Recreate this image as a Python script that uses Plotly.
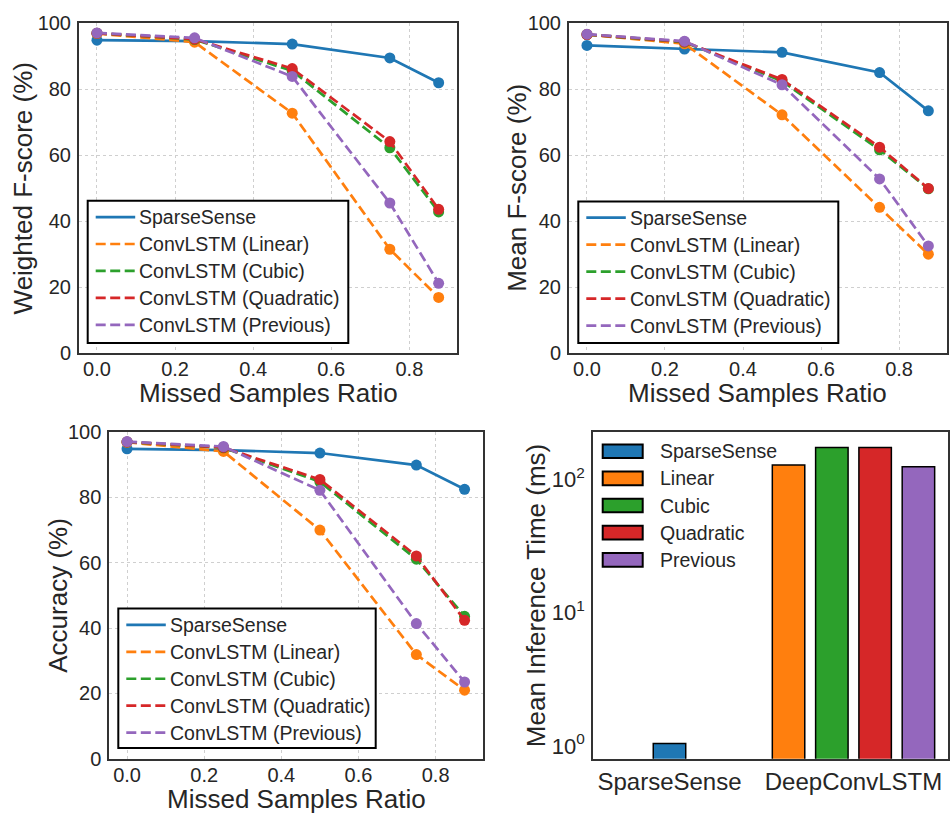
import plotly.graph_objects as go

# ---------------- data ----------------
missed_ratio = [0.0, 0.25, 0.5, 0.75, 0.875]
series_names = ["SparseSense", "ConvLSTM (Linear)", "ConvLSTM (Cubic)",
                "ConvLSTM (Quadratic)", "ConvLSTM (Previous)"]

# Weighted F-score (%)
wf_sparsesense = [94.8, 94.5, 93.6, 89.4, 81.9]
wf_linear = [96.8, 94.2, 72.7, 31.5, 16.9]
wf_cubic = [96.9, 95.0, 85.5, 62.2, 42.8]
wf_quadratic = [96.9, 95.1, 86.2, 64.1, 43.6]
wf_previous = [97.0, 95.5, 83.8, 45.5, 21.2]

# Mean F-score (%)
mf_sparsesense = [93.2, 92.1, 91.1, 85.0, 73.4]
mf_linear = [96.5, 93.7, 72.2, 44.2, 30.0]
mf_cubic = [96.5, 94.2, 82.4, 61.6, 49.8]
mf_quadratic = [96.5, 94.3, 82.9, 62.4, 49.9]
mf_previous = [96.6, 94.5, 81.3, 52.8, 32.5]

# Accuracy (%)
acc_sparsesense = [94.9, 94.5, 93.6, 89.9, 82.5]
acc_linear = [96.9, 94.1, 70.0, 31.9, 21.0]
acc_cubic = [97.0, 95.2, 84.8, 61.1, 43.6]
acc_quadratic = [97.0, 95.3, 85.5, 62.1, 42.4]
acc_previous = [97.1, 95.6, 82.2, 41.4, 23.5]

# Mean inference time (ms)
bar_labels = ["SparseSense", "Linear", "Cubic", "Quadratic", "Previous"]
bar_groups = ["SparseSense", "DeepConvLSTM", "DeepConvLSTM", "DeepConvLSTM", "DeepConvLSTM"]
inference_ms = [1.04, 128, 173, 173, 124]
group_ticks = ["SparseSense", "DeepConvLSTM"]

# ---------------- styling ----------------
COLORS = ["#1f77b4", "#ff7f0e", "#2ca02c", "#d62728", "#9467bd"]
DASHES = ["solid", "10px,4.5px", "10px,4.5px", "10px,4.5px", "10px,4.5px"]
LW = 2.7
FONT = "Liberation Sans, Arial, sans-serif"
TXT = "#262626"
FRAME = "#333333"
GRID = "#cfcfcf"

W, H = 950, 823


def px_dom(a, b, total, flip=False):
    if flip:
        return [(total - b) / total, (total - a) / total]
    return [a / total, b / total]


def fx(px):
    return px / W


def fy(px):
    return (H - px) / H


panels = [
    # axis suffix, x pixel span, y pixel span, series, y title, title offset, legend box
    ("", (79, 457), (12.3, 351.7),
     [wf_sparsesense, wf_linear, wf_cubic, wf_quadratic, wf_previous],
     "Weighted F-score (%)", 55.7, (87.7, 195, 348.3, 341)),
    ("2", (569, 946.7), (12.3, 351.7),
     [mf_sparsesense, mf_linear, mf_cubic, mf_quadratic, mf_previous],
     "Mean F-score (%)", 52.3, (578.3, 195.7, 838.3, 341)),
    ("3", (109.3, 482.7), (432.7, 768.3),
     [acc_sparsesense, acc_linear, acc_cubic, acc_quadratic, acc_previous],
     "Accuracy (%)", 51, (118.3, 614, 375.7, 757.3)),
]

fig = go.Figure()
layout = dict(
    width=W, height=H,
    margin=dict(l=0, r=0, t=0, b=0),
    paper_bgcolor="white", plot_bgcolor="white",
    font=dict(family=FONT, color=TXT),
    showlegend=False,
    annotations=[], shapes=[],
)

common_axis = dict(
    showline=True, mirror=True, linecolor=FRAME, linewidth=2,
    ticks="", zeroline=False,
    tickfont=dict(size=20, family=FONT, color=TXT),
)

for suffix, xs, ys, series, ytitle, yshift_title, box in panels:
    xa, ya = "x" + suffix, "y" + suffix
    for name, vals, col, dash in zip(series_names, series, COLORS, DASHES):
        fig.add_trace(go.Scatter(
            x=missed_ratio, y=vals, mode="lines+markers", xaxis=xa, yaxis=ya,
            line=dict(color=col, width=LW, dash=dash),
            marker=dict(color=col, size=11),
            name=name,
        ))
    layout["xaxis" + suffix] = dict(
        common_axis, domain=px_dom(*xs, W), range=[-0.046, 0.922],
        tickvals=[0.0, 0.2, 0.4, 0.6, 0.8], ticktext=["0.0", "0.2", "0.4", "0.6", "0.8"],
        showgrid=True, gridcolor=GRID, griddash="dot", gridwidth=1,
        anchor=ya, ticklabelstandoff=-3,
    )
    layout["yaxis" + suffix] = dict(
        common_axis, domain=px_dom(*ys, H, flip=True), range=[0, 100],
        tickvals=[0, 20, 40, 60, 80, 100],
        showgrid=True, gridcolor=GRID, griddash="dot", gridwidth=1,
        anchor=xa, ticklabelstandoff=2,
    )
    layout["annotations"].append(dict(
        text="Missed Samples Ratio", xref=xa + " domain", yref=ya + " domain",
        x=0.5, y=0, yshift=-40, xanchor="center", yanchor="middle",
        showarrow=False, font=dict(size=26, family=FONT, color=TXT),
    ))
    layout["annotations"].append(dict(
        text=ytitle, xref=xa + " domain", yref=ya + " domain",
        x=0, y=0.5, xshift=-yshift_title, xanchor="center", yanchor="middle",
        textangle=-90, showarrow=False, font=dict(size=26, family=FONT, color=TXT),
    ))

    # framed legend: line samples and labels
    bx0, by0, bx1, by1 = box
    layout["shapes"].append(dict(
        type="rect", xref="paper", yref="paper",
        x0=fx(bx0), x1=fx(bx1), y0=fy(by1), y1=fy(by0),
        fillcolor="white", line=dict(color="black", width=2), layer="above",
    ))
    for i, (name, col, dash) in enumerate(zip(series_names, COLORS, DASHES)):
        cy = by0 + 16.7 + i * 27.7
        layout["shapes"].append(dict(
            type="line", xref="paper", yref="paper",
            x0=fx(bx0 + 8), x1=fx(bx0 + 47.5), y0=fy(cy), y1=fy(cy),
            line=dict(color=col, width=LW, dash=dash), layer="above",
        ))
        layout["annotations"].append(dict(
            text=name, xref="paper", yref="paper",
            x=fx(bx0 + 49.5), y=fy(cy), xanchor="left", yanchor="middle",
            showarrow=False, font=dict(size=19.5, family=FONT, color=TXT),
        ))

# ---------------- inference time bars ----------------
group_center = {"SparseSense": 0.0, "DeepConvLSTM": 4.25}
positions = []
for i, g in enumerate(bar_groups):
    members = [j for j, gg in enumerate(bar_groups) if gg == g]
    k = members.index(i)
    positions.append(group_center[g] + (k - (len(members) - 1) / 2))

for lab, pos, val, col in zip(bar_labels, positions, inference_ms, COLORS):
    fig.add_trace(go.Bar(
        x=[pos], y=[val], width=0.75, xaxis="x4", yaxis="y4",
        marker=dict(color=col, line=dict(color="black", width=1.5)),
        name=lab,
    ))

layout["xaxis4"] = dict(
    common_axis, domain=px_dom(593.3, 948.3, W), range=[-1.76, 6.44],
    tickvals=[group_center[g] for g in group_ticks], ticktext=group_ticks,
    tickfont=dict(size=24, family=FONT, color=TXT),
    showgrid=False, anchor="y4",
)
layout["yaxis4"] = dict(
    common_axis, domain=px_dom(432.7, 768.3, H, flip=True), type="log",
    range=[-0.097, 2.353], tickvals=[1, 10, 100],
    ticktext=["10<sup>0</sup>", "10<sup>1</sup>", "10<sup>2</sup>"],
    tickfont=dict(size=22, family=FONT, color=TXT),
    showgrid=False, anchor="x4", ticklabelstandoff=2,
)
layout["annotations"].append(dict(
    text="Mean Inference Time (ms)", xref="x4 domain", yref="y4 domain",
    x=0, y=0.5, xshift=-56.6, xanchor="center", yanchor="middle",
    textangle=-90, showarrow=False, font=dict(size=26, family=FONT, color=TXT),
))

# legend for the bar panel: colour patches with labels
patch_x0, patch_x1, text_x = 602.7, 642.7, 658.3
row_y0, row_gap = 452.3, 27.9
for i, (lab, col) in enumerate(zip(bar_labels, COLORS)):
    cy = row_y0 + i * row_gap
    layout["shapes"].append(dict(
        type="rect", xref="paper", yref="paper",
        x0=fx(patch_x0), x1=fx(patch_x1),
        y0=fy(cy + 7), y1=fy(cy - 7),
        fillcolor=col, line=dict(color="black", width=2),
    ))
    layout["annotations"].append(dict(
        text=lab, xref="paper", yref="paper", x=fx(text_x), y=fy(cy),
        xanchor="left", yanchor="middle", showarrow=False,
        font=dict(size=19.5, family=FONT, color=TXT),
    ))

fig.update_layout(**layout)
fig.write_html("out.html")
